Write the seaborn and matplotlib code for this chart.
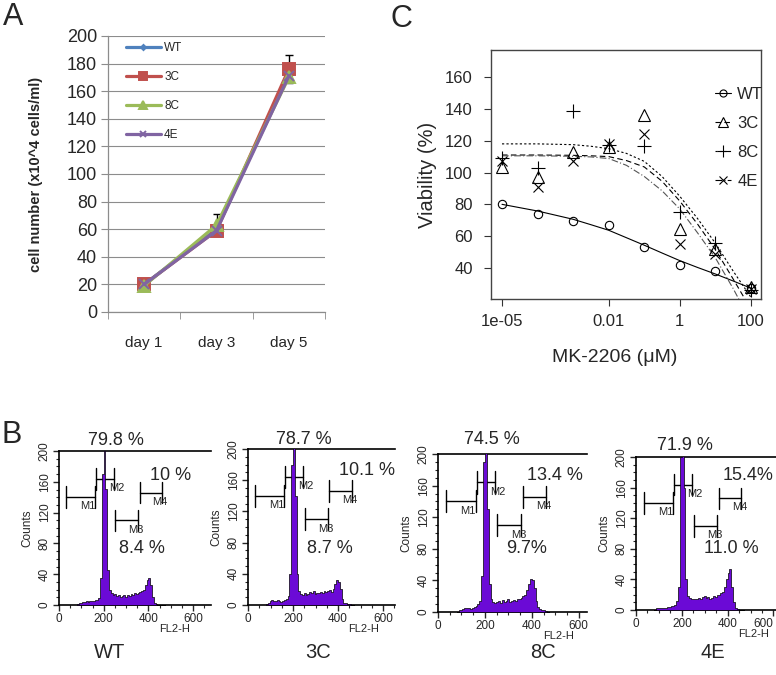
import numpy as np
import matplotlib
matplotlib.use('Agg')
import matplotlib.pyplot as plt
import matplotlib.transforms as mtransforms
from matplotlib.lines import Line2D
from matplotlib.ticker import MultipleLocator, NullLocator
import seaborn as sns

sns.set_style('ticks')
plt.rcParams['font.family'] = ['Liberation Sans', 'DejaVu Sans']

# ---------------- data: panel A (growth) ----------------
days = ['day 1', 'day 3', 'day 5']
clones = ['WT', '3C', '8C', '4E']
wt_count = [20, 60, 172]
c3_count = [20, 59, 176]
c8_count = [19, 63, 170]
e4_count = [20, 59, 171]
wt_err = [1, 3, 4]
c3_err = [1, 2, 10]
c8_err = [1, 8, 3]
e4_err = [1, 3, 4]

# ---------------- data: panel C (viability) ----------------
doses = [1e-5, 1e-4, 1e-3, 1e-2, 1e-1, 1, 10, 100]
wt_via = [80, 74, 69.5, 67, 53, 42, 38, 27.3]
c3_via = [103.5, 97, 113, 116, 136, 64.5, 52, 28]
c8_via = [109, 103, 138.5, 117.5, 116.5, 75, 55.5, 26]
e4_via = [107.5, 91, 107.5, 118, 124, 55, 48.5, 26.5]
# fitted curves, read at half-decade steps
curve_dose = [1e-5, 1e-4, 1e-3, 10**-2.5, 1e-2, 10**-1.5, 1e-1, 10**-0.5, 1, 10**0.5, 10, 10**1.5, 100]
wt_fit = [80, 75.8, 70.6, 67.2, 63.7, 59, 54.3, 49.4, 44.6, 40.3, 36.2, 31.8, 27.3]
c3_fit = [111, 111, 110.8, 110.5, 110, 107.5, 103.5, 94.5, 82, 67.5, 51.5, 33, 14]
c8_fit = [118, 118, 117.5, 116.5, 115, 112, 107, 97.5, 85, 71, 55.5, 38, 21.5]
e4_fit = [110.5, 110.5, 110.2, 109.8, 108.8, 104.5, 97.5, 88.5, 77, 62, 46.3, 27, 6]

# ---------------- data: panel B (cell cycle) ----------------
fl2_centers = list(range(84, 469, 8))
wt_hist = [1, 3, 3, 4, 4, 5, 4, 5, 5, 5, 6, 7, 9, 35, 170, 260, 150, 45, 20, 15,
           13, 14, 12, 13, 11, 12, 13, 11, 13, 12, 14, 13, 15, 14, 16, 17, 18, 20, 26, 32,
           35, 26, 10, 3, 1, 0, 0, 0, 0]
c3_hist = [1, 3, 5, 6, 5, 5, 6, 5, 4, 5, 7, 8, 12, 40, 180, 260, 140, 40, 18, 14,
           13, 15, 13, 14, 17, 15, 18, 14, 16, 15, 17, 16, 18, 17, 18, 19, 17, 20, 27, 32,
           30, 20, 8, 3, 2, 1, 1, 0, 0]
c8_hist = [0, 2, 3, 4, 5, 5, 5, 4, 5, 6, 8, 10, 14, 45, 190, 260, 130, 35, 16, 13,
           12, 13, 14, 12, 15, 13, 14, 16, 13, 14, 15, 14, 16, 17, 18, 20, 22, 28, 35, 42,
           40, 30, 14, 6, 4, 3, 2, 1, 0]
e4_hist = [0, 2, 3, 3, 3, 3, 3, 4, 4, 5, 5, 7, 12, 30, 200, 260, 160, 40, 18, 16,
           15, 14, 15, 14, 16, 15, 17, 18, 16, 17, 15, 16, 18, 17, 19, 20, 22, 24, 30, 40,
           48, 54, 30, 10, 3, 1, 0, 0, 0]
g1_pct = ['79.8 %', '78.7 %', '74.5 %', '71.9 %']
g2_pct = ['10 %', '10.1 %', '13.4 %', '15.4%']
s_pct = ['8.4 %', '8.7 %', '9.7%', '11.0 %']

W, H = 776, 675
fig = plt.figure(figsize=(W / 100, H / 100), dpi=100)


def box(l, r, t, b):
    return [l / W, 1 - b / H, (r - l) / W, (b - t) / H]


# ======================= Panel A =======================
axA = fig.add_axes(box(108, 325, 36, 312))
colA = {'WT': '#4F81BD', '3C': '#C0504D', '8C': '#9BBB59', '4E': '#8064A2'}
mkA = {'WT': 'D', '3C': 's', '8C': '^', '4E': 'x'}
msA = {'WT': 4, '3C': 8, '8C': 8, '4E': 7}
xs = np.arange(len(days))
seriesA = [('WT', wt_count, wt_err), ('3C', c3_count, c3_err),
           ('8C', c8_count, c8_err), ('4E', e4_count, e4_err)]
for name, vals, err in seriesA:
    axA.errorbar(xs, vals, yerr=err, fmt='none', ecolor='black', elinewidth=1,
                 capsize=3, capthick=1, zorder=2)
for name, vals, err in seriesA:
    sns.lineplot(x=xs, y=vals, ax=axA, color=colA[name], marker=mkA[name],
                 markersize=msA[name], markeredgecolor=colA[name], mew=1.4,
                 linewidth=2.3, label=name, zorder=3)
axA.set_xlim(-0.5, 2.5)
axA.set_ylim(0, 200)
axA.set_yticks(range(0, 201, 20))
axA.set_xticks(xs)
axA.set_xticklabels(days)
axA.xaxis.set_minor_locator(matplotlib.ticker.FixedLocator([-0.5, 0.5, 1.5, 2.5]))
axA.tick_params(axis='x', which='major', length=0, pad=17, labelsize=11)
axA.tick_params(axis='x', which='minor', length=5, color='#8c8c8c', direction='out')
axA.tick_params(axis='y', length=5, color='#8c8c8c', labelsize=13, pad=3)
axA.grid(axis='y', color='#8c8c8c', linewidth=0.8)
axA.set_axisbelow(True)
for s in ['top', 'right']:
    axA.spines[s].set_visible(False)
for s in ['left', 'bottom']:
    axA.spines[s].set_color('#8c8c8c')
    axA.spines[s].set_linewidth(0.9)
axA.set_xlabel('')
axA.set_ylabel('cell number (x10^4 cells/ml)', fontsize=10.5, fontweight='bold')
axA.yaxis.set_label_coords(-0.30, 0.5)
axA.legend(loc='upper left', bbox_to_anchor=(0.06, 0.995), frameon=False, fontsize=8.5,
           handlelength=3.0, labelspacing=1.45, handletextpad=0.25, borderaxespad=0,
           markerscale=0.65)

# ======================= Panel C =======================
axC = fig.add_axes(box(491, 761, 50, 299))
axC.set_xscale('log')
fits = [('WT', wt_fit, '-', 'black'), ('3C', c3_fit, (0, (5, 3)), 'black'),
        ('8C', c8_fit, (0, (2, 2)), 'black'), ('4E', e4_fit, (0, (6, 2, 1, 2)), '#555555')]
for name, vals, ls, c in fits:
    sns.lineplot(x=curve_dose, y=vals, ax=axC, color=c, linestyle=ls, linewidth=0.8)
ptsC = [('WT', wt_via, 'o', 6), ('3C', c3_via, '^', 8), ('8C', c8_via, '+', 10), ('4E', e4_via, 'x', 7.5)]
for name, vals, mk, ms in ptsC:
    sns.lineplot(x=doses, y=vals, ax=axC, color='black', linestyle='', marker=mk,
                 markersize=ms, markerfacecolor='none', markeredgecolor='black', mew=0.8)
axC.set_xlim(10 ** -5.309, 10 ** 2.281)
axC.set_ylim(20.5, 177)
axC.set_xticks([1e-5, 1e-2, 1, 100])
axC.set_xticklabels(['1e-05', '0.01', '1', '100'])
axC.xaxis.set_minor_locator(NullLocator())
axC.set_yticks(range(40, 161, 20))
axC.tick_params(axis='x', length=5, width=0.8, labelsize=12, pad=6, color='#333333')
axC.tick_params(axis='y', length=5, width=0.8, labelsize=12, pad=8, color='#333333')
for s in axC.spines.values():
    s.set_color('#444444')
    s.set_linewidth(1.0)
axC.set_xlabel('MK-2206 (\u03bcM)', fontsize=14)
axC.xaxis.set_label_coords(0.459, -0.2)
axC.set_ylabel('Viability (%)', fontsize=14.5)
axC.yaxis.set_label_coords(-0.2, 0.5)
legh = []
for (name, vals, mk, ms), (_, _, ls, c) in zip(ptsC, fits):
    legh.append(Line2D([], [], color='black', marker=mk, markersize=ms * 0.85, linestyle=ls,
                       linewidth=0.8, markerfacecolor='none', mew=0.8))
axC.legend(legh, clones, loc='upper left', bbox_to_anchor=(0.804, 0.88), frameon=False,
           fontsize=12, handlelength=1.0, labelspacing=0.85, handletextpad=0.35,
           borderaxespad=0, borderpad=0.4)

# ======================= Panel B =======================
edges = [c - 4 for c in fl2_centers] + [fl2_centers[-1] + 4]
hists = [wt_hist, c3_hist, c8_hist, e4_hist]
boxesB = [(59, 211, 451, 605, 680), (248, 395, 449, 605, 653),
          (438, 587, 454, 612, 635), (636, 776, 457, 610, 611)]
pct_pos = [((256, 214), (500, 168), (372, 73)),
           ((247, 212), (529, 173), (363, 73)),
           ((230, 218), (500, 173), (377, 80)),
           ((212, 215), (489, 176), (416, 80))]
gates = [('M1', 33, 162, 140, -33, -12), ('M2', 166, 245, 164, 12, -12),
         ('M3', 252, 355, 110, -10, -12), ('M4', 362, 460, 146, -8, -12)]
purple = '#6B0AD6'
for i, (l, r, t, b, xmax) in enumerate(boxesB):
    ax = fig.add_axes(box(l, r, t, b))
    for gname, x1, x2, gy, dx, dy in gates:
        ax.plot([x1, x2], [gy, gy], color='black', lw=1.0, zorder=2)
        ax.plot([x1, x1], [gy - 14, gy + 14], color='black', lw=1.0, zorder=2)
        ax.plot([x2, x2], [gy - 14, gy + 14], color='black', lw=1.0, zorder=2)
        ax.text(x2 + dx, gy + dy, gname, fontsize=8, ha='center', va='center', zorder=2)
    sns.histplot(x=fl2_centers, weights=hists[i], bins=edges, element='step', fill=True,
                 color=purple, alpha=1, edgecolor='black', linewidth=0.5, ax=ax, zorder=3)
    ax.set_xlim(0, xmax)
    ax.set_ylim(0, 200)
    ax.spines['right'].set_visible(False)
    for s in ['left', 'bottom', 'top']:
        ax.spines[s].set_linewidth(1.2)
        ax.spines[s].set_color('black')
    ax.set_xticks([0, 200, 400, 600])
    ax.xaxis.set_minor_locator(MultipleLocator(50))
    ax.set_yticks([0, 40, 80, 120, 160, 200])
    ax.yaxis.set_minor_locator(MultipleLocator(10))
    ax.tick_params(axis='both', which='major', length=4, width=1, labelsize=8.5, direction='out')
    ax.tick_params(axis='both', which='minor', length=2.5, width=0.8, direction='out')
    ax.tick_params(axis='x', pad=2)
    ax.tick_params(axis='y', pad=2)
    for lbl in ax.get_yticklabels():
        lbl.set_rotation(90)
        lbl.set_va('center')
    if xmax < 620:
        ax.get_xticklabels()[-1].set_ha('right')
    ax.set_xlabel('')
    ax.set_ylabel('Counts', fontsize=8.5)
    ax.yaxis.set_label_coords(-26 / (r - l), 0.5)
    trans = mtransforms.blended_transform_factory(ax.transData, ax.transAxes)
    ax.text(515, -24 / (b - t), 'FL2-H', transform=trans, fontsize=8, ha='center', va='center')
    (gx, gy1), (mx, my), (sx, sy) = pct_pos[i]
    ax.text(gx, gy1, g1_pct[i], fontsize=13, ha='center', va='center', clip_on=False)
    ax.text(mx, my, g2_pct[i], fontsize=13, ha='center', va='center', clip_on=False)
    ax.text(sx, sy, s_pct[i], fontsize=13, ha='center', va='center', clip_on=False)

for name, xc in zip(clones, [110, 318, 543, 713]):
    fig.text(xc / W, 1 - 653 / H, name, fontsize=14.5, ha='center', va='center')

fig.text(3 / W, 1 - 25 / H, 'A', fontsize=22, ha='left', va='baseline')
fig.text(390 / W, 1 - 27 / H, 'C', fontsize=22, ha='left', va='baseline')
fig.text(2 / W, 1 - 443 / H, 'B', fontsize=22, ha='left', va='baseline')

fig.savefig('out.png', dpi=100)
